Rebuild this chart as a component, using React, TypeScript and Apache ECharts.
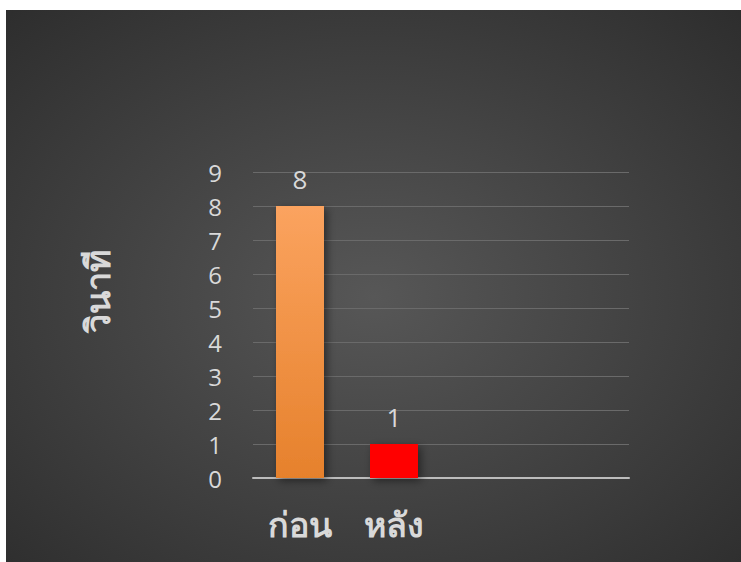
import React, { useEffect, useRef } from "react";
import * as echarts from "echarts";

const categories = ["ก่อน", "หลัง", "", ""];
const seconds = [8, 1, null, null];
const yTicks = [0, 1, 2, 3, 4, 5, 6, 7, 8, 9];
const yAxisTitle = "วินาที";

export default function App() {
  const ref = useRef<HTMLDivElement>(null);
  useEffect(() => {
    document.body.style.margin = "0";
    const chart = echarts.init(ref.current!, null, { renderer: "svg" });
    const textColor = "#d9d9d9";
    chart.setOption({
      animation: false,
      backgroundColor: {
        type: "radial",
        x: 0.5,
        y: 0.52,
        r: 0.85,
        colorStops: [
          { offset: 0, color: "#575757" },
          { offset: 1, color: "#262626" },
        ],
      },
      grid: { left: 247, right: 112, top: 162, bottom: 84 },
      xAxis: {
        type: "category",
        data: categories,
        axisTick: { show: false },
        axisLine: { lineStyle: { color: "#bcbcbc", width: 2 } },
        axisLabel: {
          color: textColor,
          fontSize: 34,
          fontWeight: "bold",
          fontFamily: "Noto Sans, sans-serif",
          margin: 29,
        },
      },
      yAxis: {
        type: "value",
        min: 0,
        max: yTicks[yTicks.length - 1],
        interval: 1,
        axisLine: { show: false },
        axisTick: { show: false },
        splitLine: { lineStyle: { color: "#6a6a6a", width: 1 } },
        axisLabel: {
          color: textColor,
          fontSize: 24,
          fontFamily: "Open Sans, sans-serif",
          margin: 31,
        },
      },
      graphic: [
        {
          type: "text",
          x: 91,
          y: 281,
          rotation: Math.PI / 2,
          style: {
            text: yAxisTitle,
            fill: textColor,
            font: "bold 34px Noto Sans, sans-serif",
            align: "center",
            verticalAlign: "middle",
          },
        },
      ],
      series: [
        {
          type: "bar",
          data: seconds.map((v, i) =>
            v == null
              ? null
              : {
                  value: v,
                  itemStyle: {
                    color:
                      i === 0
                        ? {
                            type: "linear",
                            x: 0,
                            y: 0,
                            x2: 0,
                            y2: 1,
                            colorStops: [
                              { offset: 0, color: "#fba35f" },
                              { offset: 1, color: "#e6812c" },
                            ],
                          }
                        : "#ff0000",
                  },
                }
          ),
          barWidth: 48,
          itemStyle: {
            shadowColor: "rgba(0,0,0,0.45)",
            shadowBlur: 8,
            shadowOffsetX: 3,
            shadowOffsetY: 3,
          },
          label: {
            show: true,
            position: "top",
            distance: 14,
            color: textColor,
            fontSize: 26,
            fontFamily: "Open Sans, sans-serif",
          },
        },
      ],
    });
    return () => chart.dispose();
  }, []);
  return (
    <div
      ref={ref}
      style={{ position: "absolute", left: 6, top: 10, width: 735, height: 552 }}
    />
  );
}
